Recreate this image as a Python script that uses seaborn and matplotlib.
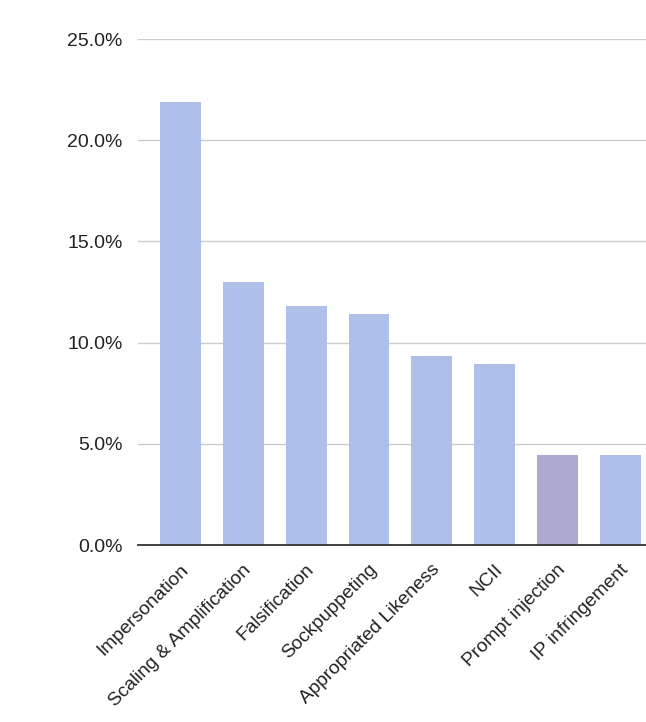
import matplotlib
matplotlib.use("Agg")
import matplotlib.pyplot as plt
import matplotlib.transforms as mtransforms
import seaborn as sns
import pandas as pd
from matplotlib.ticker import FuncFormatter, MultipleLocator

categories = ["Impersonation", "Scaling & Amplification", "Falsification", "Sockpuppeting",
              "Appropriated Likeness", "NCII", "Prompt injection", "IP infringement"]
values = [21.9, 13.0, 11.8, 11.4, 9.35, 8.95, 4.45, 4.45]
bar_colors = ["#AEC0EA", "#AEC0EA", "#AEC0EA", "#AEC0EA",
              "#AEC0EA", "#AEC0EA", "#ADA9D2", "#AEC0EA"]

df = pd.DataFrame({"category": categories, "value": values})

sns.set_style("white")
plt.rcParams['font.family'] = ['Liberation Sans', 'DejaVu Sans']

fig = plt.figure(figsize=(6.46, 7.22), dpi=100)
ax = fig.add_axes([138/646, 177/722, 508/646, 506/722])

sns.barplot(data=df, x="category", y="value", hue="category", palette=bar_colors,
            legend=False, width=0.65, ax=ax, saturation=1, linewidth=0)

ax.set_ylim(0, 25)
ax.set_xlim(-0.68, 7.41)
ax.yaxis.set_major_locator(MultipleLocator(5))
ax.yaxis.set_major_formatter(FuncFormatter(lambda v, p: f"{v:.1f}%"))
ax.grid(axis="y", color="#CCCCCC", linewidth=1.0)
ax.set_axisbelow(True)
for s in ["left", "right", "top"]:
    ax.spines[s].set_visible(False)
ax.spines["bottom"].set_color("#333333")
ax.spines["bottom"].set_linewidth(1.3)
ax.set_xlabel("")
ax.set_ylabel("")
ax.tick_params(axis="y", length=0, pad=11, labelsize=14, labelcolor="#222222")
ax.tick_params(axis="x", length=0, pad=16, labelsize=13.8, labelcolor="#222222")
offset = mtransforms.ScaledTranslation(5/100, 0, fig.dpi_scale_trans)
for lbl in ax.get_xticklabels():
    lbl.set_rotation(45)
    lbl.set_ha("right")
    lbl.set_va("center")
    lbl.set_rotation_mode("anchor")
    lbl.set_transform(lbl.get_transform() + offset)

fig.savefig("out.png", dpi=100)
